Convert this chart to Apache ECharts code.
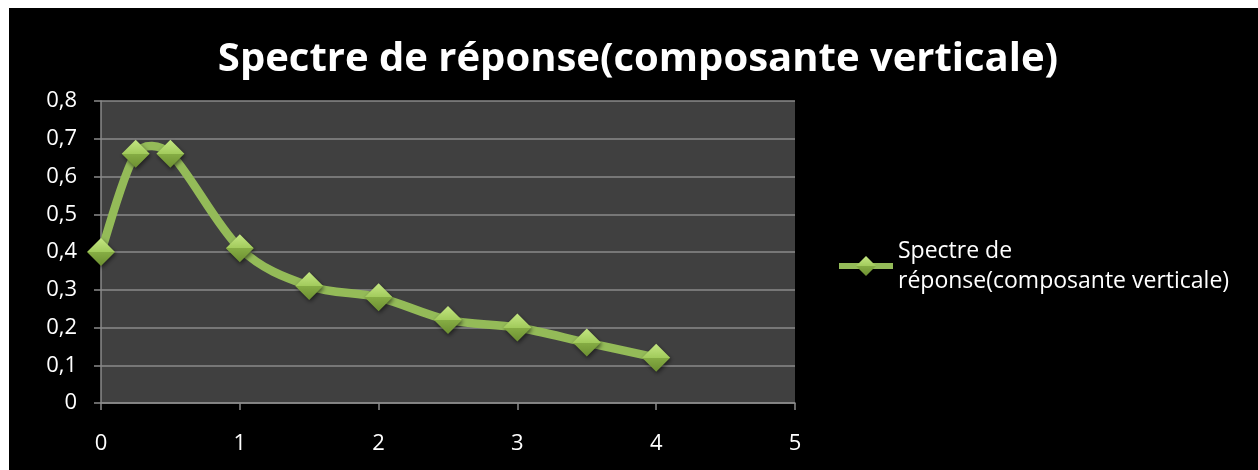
<!DOCTYPE html>
<html>
<head>
<meta charset="utf-8">
<script src="https://cdn.jsdelivr.net/npm/echarts@6/dist/echarts.min.js"></script>
<style>
  html, body { margin: 0; padding: 0; background: #ffffff; }
  #chart { position: absolute; left: 9px; top: 8px; width: 1249px; height: 462px; background: #000000; }
</style>
</head>
<body>
<div id="chart"></div>
<script>
// Response spectrum, vertical component
const chartTitle = 'Spectre de réponse(composante verticale)';
const seriesName = 'Spectre de réponse(composante verticale)';
const periods = [0, 0.25, 0.5, 1, 1.5, 2, 2.5, 3, 3.5, 4];
const accel   = [0.40, 0.66, 0.66, 0.41, 0.31, 0.28, 0.22, 0.20, 0.16, 0.12];

const FONT = '"Open Sans"';
const gridGray = '#8a8a8a';
const lineGreen = '#94bb58';

const chart = echarts.init(document.getElementById('chart'), null, { renderer: 'canvas' });

const diamondFill = new echarts.graphic.LinearGradient(0, 0, 0, 1, [
  { offset: 0, color: '#c4e682' },
  { offset: 0.5, color: '#a2cb5c' },
  { offset: 0.5, color: '#86ad44' },
  { offset: 1, color: '#6c8f31' }
]);

const fmt = v => (v === 0 ? '0' : String(+v.toFixed(1)).replace('.', ','));

// Catmull-Rom style handle, capped relative to the segment length
const TENSION = 1 / 6;
const HANDLE_CAP = 0.4;
function handle(from, a, b, segLen) {
  let hx = (b[0] - a[0]) * TENSION;
  let hy = (b[1] - a[1]) * TENSION;
  const len = Math.hypot(hx, hy);
  const cap = HANDLE_CAP * segLen;
  if (len > cap && len > 0) { hx *= cap / len; hy *= cap / len; }
  return [hx, hy];
}

// Smoothed curve through all points, in pixel space from the axis scales
function renderCurve(params, api) {
  const pts = periods.map((p, i) => api.coord([p, accel[i]]));
  const n = pts.length;
  const children = [];
  for (let i = 0; i < n - 1; i++) {
    const p0 = pts[Math.max(i - 1, 0)];
    const p1 = pts[i];
    const p2 = pts[i + 1];
    const p3 = pts[Math.min(i + 2, n - 1)];
    const seg = Math.hypot(p2[0] - p1[0], p2[1] - p1[1]);
    const h1 = handle(p1, p0, p2, seg);
    const h2 = handle(p2, p1, p3, seg);
    children.push({
      type: 'bezierCurve',
      shape: {
        x1: p1[0], y1: p1[1],
        cpx1: p1[0] + h1[0], cpy1: p1[1] + h1[1],
        cpx2: p2[0] - h2[0], cpy2: p2[1] - h2[1],
        x2: p2[0], y2: p2[1]
      },
      style: { stroke: lineGreen, lineWidth: 8.5, fill: null, lineCap: 'round' },
      silent: true
    });
  }
  return { type: 'group', children };
}

chart.setOption({
  backgroundColor: '#000000',
  animation: false,
  title: {
    text: chartTitle,
    left: 624,
    textAlign: 'center',
    top: 27,
    textStyle: { color: '#ffffff', fontFamily: FONT, fontWeight: 'bold', fontSize: 40 }
  },
  legend: {
    data: [seriesName],
    orient: 'vertical',
    left: 827,
    top: 213,
    padding: 0,
    itemWidth: 54,
    itemHeight: 25,
    lineStyle: { color: lineGreen, width: 6, opacity: 1 },
    formatter: () => 'Spectre de\nréponse(composante verticale)',
    textStyle: { color: '#ffffff', fontFamily: FONT, fontSize: 23, lineHeight: 30, padding: [30, 0, 0, 0] }
  },
  grid: {
    left: 92, top: 93, width: 694, height: 302,
    show: true, backgroundColor: '#404040', borderWidth: 0
  },
  xAxis: {
    type: 'value',
    min: 0, max: 5, interval: 1,
    axisLine: { show: true, onZero: false, lineStyle: { color: gridGray, width: 1.5 } },
    axisTick: { show: true, length: 7, lineStyle: { color: gridGray, width: 1.5 } },
    splitLine: { show: false },
    axisLabel: { color: '#ffffff', fontFamily: FONT, fontSize: 22, margin: 30 }
  },
  yAxis: {
    type: 'value',
    min: 0, max: 0.8, interval: 0.1,
    axisLine: { show: true, lineStyle: { color: gridGray, width: 1.5 } },
    axisTick: { show: true, length: 7, lineStyle: { color: gridGray, width: 1.5 } },
    splitLine: { show: true, lineStyle: { color: gridGray, width: 1.5 } },
    axisLabel: { color: '#ffffff', fontFamily: FONT, fontSize: 22, margin: 24, formatter: fmt }
  },
  series: [{
    name: 'curve',
    type: 'custom',
    data: [[0, 0]],
    renderItem: renderCurve,
    z: 2,
    silent: true
  }, {
    name: seriesName,
    type: 'line',
    data: periods.map((p, i) => [p, accel[i]]),
    lineStyle: { color: lineGreen, width: 6, opacity: 0 },
    symbol: 'diamond',
    symbolSize: 28,
    showAllSymbol: true,
    z: 3,
    itemStyle: {
      color: diamondFill,
      borderWidth: 0,
      shadowColor: 'rgba(0,0,0,0.55)',
      shadowBlur: 4,
      shadowOffsetX: 1,
      shadowOffsetY: 2
    },
    emphasis: { disabled: true }
  }]
});
</script>
</body>
</html>
